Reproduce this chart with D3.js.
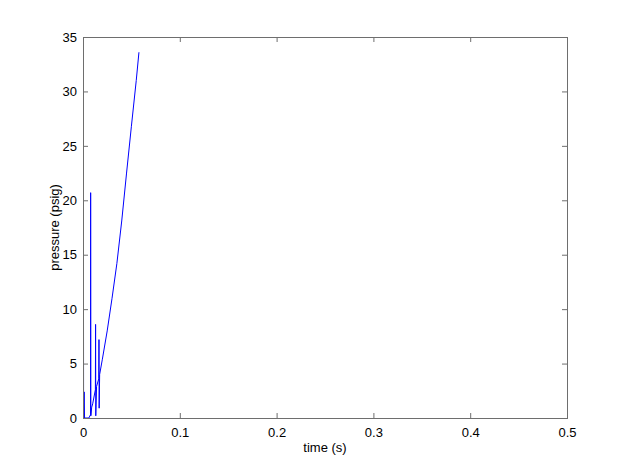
<!DOCTYPE html>
<html>
<head>
<meta charset="utf-8">
<script src="https://cdn.jsdelivr.net/npm/d3@7"></script>
<style>
  body { margin: 0; background: #fff; }
  .axis text { font-family: "Liberation Sans", Arial, sans-serif; font-size: 13px; fill: #000; }
  .label { font-family: "Liberation Sans", Arial, sans-serif; font-size: 13px; fill: #000; }
</style>
</head>
<body>
<div id="myfigure"></div>
<script>
// pressure trace
var time = [0, 0.0003, 0.0006, 0.0012, 0.0016, 0.0060, 0.0078, 0.0079, 0.0081, 0.0090,
            0.0100, 0.0128, 0.0130, 0.0132, 0.0140, 0.0163, 0.0165, 0.0167, 0.0172, 0.0200,
            0.0250, 0.0300, 0.0350, 0.0400, 0.0450, 0.0500, 0.0550, 0.0578];
var pressure = [0, 36, 0, 2.4, 0, 0, 0.3, 20.7, 0.2, 1.0,
                1.3, 2.6, 8.6, 0.2, 2.9, 3.6, 7.2, 0.9, 4.0, 5.4,
                8.0, 11.0, 14.2, 18.1, 22.5, 26.8, 31.0, 33.6];
var xTicks = [0, 0.1, 0.2, 0.3, 0.4, 0.5];
var yTicks = [0, 5, 10, 15, 20, 25, 30, 35];

var width = 628, height = 472;
var margin = { left: 83, right: 61, top: 37, bottom: 54 };
var figw = width - margin.left - margin.right;
var figh = height - margin.top - margin.bottom;

var data = time.map(function(t, i) { return { t: t, p: pressure[i] }; });

var xScale = d3.scaleLinear().domain([0, 0.5]).range([0, figw]);
var yScale = d3.scaleLinear().domain([0, 35]).range([figh, 0]);

var svg = d3.select("#myfigure")
    .append("svg")
    .attr("width", width)
    .attr("height", height)
    .append("g")
    .attr("transform", "translate(" + margin.left + "," + margin.top + ")");

svg.append("clipPath").attr("id", "clip")
    .append("rect").attr("width", figw).attr("height", figh);

// the trace
var line = d3.line()
    .x(function(d) { return xScale(d.t); })
    .y(function(d) { return yScale(d.p); });

svg.append("path")
    .datum(data)
    .attr("clip-path", "url(#clip)")
    .attr("d", line)
    .attr("stroke", "#0000ff")
    .attr("fill", "none")
    .attr("stroke-width", 1);

// box with inward ticks on all sides
var axisColor = "#6e6e6e";
function styleAxis(g) {
    g.selectAll(".domain").remove();
    g.selectAll(".tick line").attr("stroke", axisColor);
}

svg.append("g").attr("class", "axis")
    .attr("transform", "translate(0," + figh + ")")
    .call(d3.axisBottom(xScale).tickValues(xTicks).tickSizeInner(-5).tickPadding(10).tickFormat(d3.format("")))
    .call(styleAxis);
svg.append("g").attr("class", "axis")
    .call(d3.axisTop(xScale).tickValues(xTicks).tickSizeInner(-5).tickFormat(""))
    .call(styleAxis);
svg.append("g").attr("class", "axis")
    .call(d3.axisLeft(yScale).tickValues(yTicks).tickSizeInner(-5).tickPadding(6))
    .call(styleAxis);
svg.append("g").attr("class", "axis")
    .attr("transform", "translate(" + figw + ",0)")
    .call(d3.axisRight(yScale).tickValues(yTicks).tickSizeInner(-5).tickFormat(""))
    .call(styleAxis);

svg.append("rect")
    .attr("x", 0.5).attr("y", 0.5)
    .attr("width", figw).attr("height", figh)
    .attr("fill", "none")
    .attr("stroke", axisColor)
    .attr("stroke-width", 1);

// axis labels
svg.append("text")
    .attr("class", "label")
    .attr("x", figw / 2)
    .attr("y", figh + 34)
    .style("text-anchor", "middle")
    .text("time (s)");

svg.append("text")
    .attr("class", "label")
    .attr("transform", "rotate(-90)")
    .attr("x", -figh / 2)
    .attr("y", -24)
    .style("text-anchor", "middle")
    .text("pressure (psig)");
</script>
</body>
</html>
